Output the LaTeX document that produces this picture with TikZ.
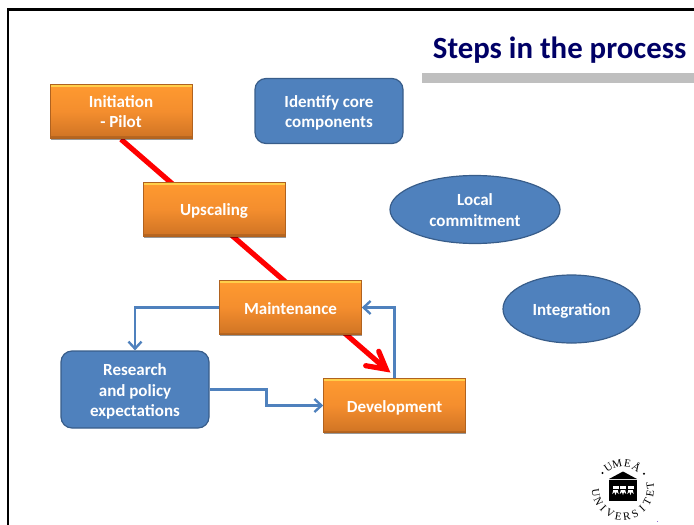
\documentclass[tikz,border=0pt]{standalone}
\usepackage{fontspec}
\setmainfont{Carlito}
\newfontfamily\sealfont{Liberation Serif}
\usetikzlibrary{arrows.meta,shapes.geometric,shadows,backgrounds,calc}
\definecolor{navy}{HTML}{000066}
\definecolor{bluefill}{HTML}{4F81BD}
\definecolor{blueedge}{HTML}{385D8A}
\definecolor{orangetop}{HTML}{FF9A30}
\definecolor{orangemid}{HTML}{F48E2E}
\definecolor{orangebot}{HTML}{CF7324}
\newcommand\firstln[1]{\rule{0pt}{19.5pt}\smash{#1}}
\newcommand\nextln[1]{\strut\smash{#1}}
\newcommand\singleln[1]{\rule{0pt}{19.5pt}\strut\smash{#1}}
\tikzset{
  lab/.style={text=white,font=\fontsize{17}{20.5}\selectfont\bfseries,align=center},
  orangebox/.style={lab,rectangle,minimum width=142pt,minimum height=54pt,inner sep=0pt,
    top color=orangetop,bottom color=orangebot,middle color=orangemid,
    draw=orangebot!85!black,line width=.6pt,
    drop shadow={shadow xshift=.8pt,shadow yshift=-1.6pt,opacity=.4,fill=black},
    path picture={\fill[orangetop!60!yellow!80!white]
      (path picture bounding box.north west) rectangle ([yshift=-2.5pt]path picture bounding box.north east);
      \fill[orangebot!80!black,opacity=.6] (path picture bounding box.south west) rectangle ([yshift=2pt]path picture bounding box.south east);}},
  bluebox/.style={lab,rectangle,rounded corners=11pt,fill=bluefill,draw=blueedge,line width=1.2pt,inner sep=0pt},
  blueoval/.style={lab,ellipse,fill=bluefill,draw=blueedge,line width=1.2pt,inner sep=0pt},
  link/.style={draw=bluefill,line width=2.4pt,-{Straight Barb[length=7pt,width=13pt,line width=2.4pt]}},
  redline/.style={draw=red,line width=5.2pt},
  sealletter/.style={font=\fontsize{11}{11}\selectfont\sealfont,text=black,inner sep=0pt}
}
\begin{document}
\begin{tikzpicture}[x=1pt,y=-1pt]
\useasboundingbox (0,0) rectangle (694,525);
% frame
\draw[black,line width=2.4pt] (8.2,525) -- (8.2,9.5) -- (694,9.5);
% title
\node[text=navy,font=\fontsize{30.8}{33}\selectfont\bfseries,anchor=base east,inner sep=0pt] (title) at (686.5,58) {Steps in the process};
\fill[black!25] (422,73) rectangle (694,83);
% boxes
\node[orangebox] (init) at (121,111) {\firstln{Initiation}\\\nextln{- Pilot}};
\node[orangebox] (up) at (214,209) {\singleln{Upscaling}};
\node[orangebox] (maint) at (290.5,307.5) {\singleln{Maintenance}};
\node[orangebox] (dev) at (394.5,405.5) {\singleln{Development}};
\node[bluebox,minimum width=148pt,minimum height=65pt] (core) at (329,111) {\firstln{Identify core}\\\nextln{components}};
\node[bluebox,minimum width=148pt,minimum height=77pt] (res) at (135,389.5) {\firstln{Research}\\\nextln{and policy}\\\nextln{expectations}};
\node[blueoval,minimum width=170pt,minimum height=68pt] (local) at (475,209.5) {\firstln{Local}\\\nextln{commitment}};
\node[blueoval,minimum width=137pt,minimum height=68pt] (integ) at (571.5,309) {\singleln{Integration}};
% connectors
\coordinate (redtip) at ($(dev.north west)+(63,-9)$);
\begin{scope}[on background layer]
  \draw[redline] ($(init.south)+(0,1)$) -- (redtip);
\end{scope}
\draw[redline,line cap=round,miter limit=10] ($(redtip)+(-7.5,-18)$) -- (redtip) -- ($(redtip)+(-20.5,-3.5)$);
\draw[link] (maint.west) -| (res.north);
\draw[link] (res.east) -- ($(res.east)+(57,0)$) |- (dev.west);
\draw[link] (dev.north) |- (maint.east);
% seal
\begin{scope}[shift={(623,489)}]
  \fill[black] (-14,-10) -- (0,-17.5) -- (14,-10) -- cycle;
  \fill[black] (-14,-9) rectangle (14,12);
  \foreach \x in {-7.5,0,7.5}{
    \fill[white] (\x-3,-3) rectangle (\x+3,0);
    \fill[white] (\x-2.2,1) -- (\x+2.2,1) -- (\x+3.2,5) -- (\x+1.1,3) -- (\x,6) -- (\x-1.1,3) -- (\x-3.2,5) -- cycle;
  }
  \foreach \ch/\a in {U/124,M/103,E/80,\r{A}/58}{
    \node[sealletter,rotate=\a-90] at ({26*cos(\a)},{-26*sin(\a)}) {\ch};
  }
  \foreach \ch [count=\i from 0] in {U,N,I,V,E,R,S,I,T,E,T}{
    \pgfmathsetmacro{\a}{188+18*\i}
    \node[sealletter,rotate=\a+90] at ({27.5*cos(\a)},{-27.5*sin(\a)}) {\ch};
  }
  \fill[black] ({26*cos(142)},{-26*sin(142)}) circle (1.1);
  \fill[black] ({26*cos(36)},{-26*sin(36)}) circle (1.1);
\end{scope}
\fill[blue!50!violet!60] (656.5,520.5) rectangle (657.5,521.5);
\end{tikzpicture}
\end{document}
